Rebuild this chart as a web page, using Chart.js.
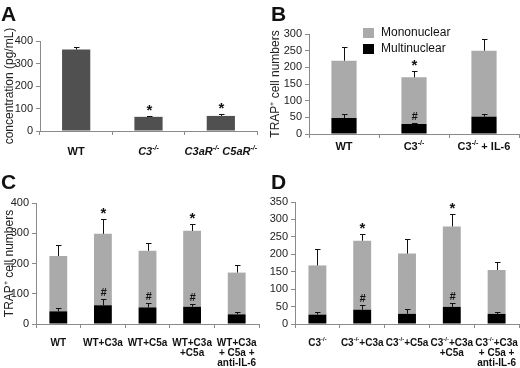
<!DOCTYPE html>
<html>
<head>
<meta charset="utf-8">
<script src="https://cdn.jsdelivr.net/npm/chart.js@4.4.0/dist/chart.umd.min.js"></script>
<style>
  body { margin: 0; background: #fff; }
  #wrap { position: relative; width: 520px; height: 368px; overflow: hidden; }
  .panel { position: absolute; }
  .letter { position: absolute; font: bold 21px "Liberation Sans", Arial, sans-serif; color: #111; }
</style>
</head>
<body>
<div id="wrap">
  <canvas class="panel" id="chartA" width="260" height="184" style="left:0;top:0"></canvas>
  <canvas class="panel" id="chartB" width="260" height="184" style="left:260px;top:0"></canvas>
  <canvas class="panel" id="chartC" width="260" height="184" style="left:0;top:184px"></canvas>
  <canvas class="panel" id="chartD" width="260" height="184" style="left:260px;top:184px"></canvas>
  <div class="letter" style="left:1px;top:2px">A</div>
  <div class="letter" style="left:271px;top:2px">B</div>
  <div class="letter" style="left:1px;top:170px">C</div>
  <div class="letter" style="left:271px;top:170px">D</div>
</div>
<script>
// panel A - concentration
const aCategories = ["WT", "C3^{-/-}", "C3aR^{-/-} C5aR^{-/-}"];
const aValues = [362, 63, 67];
const aErrors = [10, 4, 8];
const aStars = [false, true, true];

// panel B
const bCategories = ["WT", "C3^{-/-}", "C3^{-/-} + IL-6"];
const bMulti = [48, 30, 52];
const bMultiErr = [12, 4, 8];
const bMono = [172, 140, 198];
const bMonoErr = [42, 18, 34];
const bStars = [false, true, false];
const bHashes = [false, true, false];

// panel C
const cCategories = ["WT", "WT+C3a", "WT+C5a", ["WT+C3a", "+C5a"], ["WT+C3a", "+ C5a +", "anti-IL-6"]];
const cMulti = [42, 62, 55, 57, 32];
const cMultiErr = [12, 20, 15, 8, 7];
const cMono = [183, 236, 187, 251, 138];
const cMonoErr = [35, 48, 26, 24, 24];
const cStars = [false, true, false, true, false];
const cHashes = [false, true, true, true, false];

// panel D
const dCategories = ["C3^{-/-}", "C3^{-/-}+C3a", "C3^{-/-}+C5a", ["C3^{-/-}+C3a", "+C5a"], ["C3^{-/-}+C3a", "+ C5a +", "anti-IL-6"]];
const dMulti = [27, 41, 29, 49, 29];
const dMultiErr = [8, 13, 13, 11, 6];
const dMono = [141, 198, 173, 231, 126];
const dMonoErr = [46, 20, 42, 36, 23];
const dStars = [false, true, false, true, false];
const dHashes = [false, true, false, true, false];

const FAMILY = '"Liberation Sans", Arial, sans-serif';
Chart.defaults.font.family = FAMILY;
Chart.defaults.color = '#111';

// text with ^{..} superscripts, centred on x
function drawRich(ctx, s, x, y, style, size) {
  const parts = [];
  const re = /\^\{([^}]*)\}/g;
  let last = 0, m;
  while ((m = re.exec(s))) {
    if (m.index > last) parts.push({t: s.slice(last, m.index), sup: false});
    parts.push({t: m[1], sup: true});
    last = m.index + m[0].length;
  }
  if (last < s.length) parts.push({t: s.slice(last), sup: false});
  const font = sup => `${style} ${sup ? Math.round(size * 0.62) : size}px ${FAMILY}`;
  let w = 0;
  parts.forEach(p => { ctx.font = font(p.sup); p.w = ctx.measureText(p.t).width; w += p.w; });
  let cx = x - w / 2;
  ctx.textAlign = 'left';
  ctx.textBaseline = 'middle';
  parts.forEach(p => {
    ctx.font = font(p.sup);
    ctx.fillText(p.t, cx, p.sup ? y - size * 0.35 : y);
    cx += p.w;
  });
}

function stackTop(chart, di, i) {
  let v = 0;
  for (let k = 0; k <= di; k++) v += chart.data.datasets[k].data[i];
  return v;
}

const xLabelPlugin = {
  id: 'xLabels',
  afterDraw(chart, args, opts) {
    const ctx = chart.ctx, xs = chart.scales.x;
    ctx.save();
    ctx.fillStyle = '#111';
    chart.data.labels.forEach((lab, i) => {
      const lines = Array.isArray(lab) ? lab : [lab];
      const x = xs.getPixelForValue(i);
      lines.forEach((ln, j) => drawRich(ctx, ln, x, xs.top + opts.offset + j * opts.lineHeight, opts.style(i), opts.size));
    });
    ctx.restore();
  }
};

const errorPlugin = {
  id: 'errBars',
  afterDatasetsDraw(chart) {
    const ctx = chart.ctx, ys = chart.scales.y;
    ctx.save();
    ctx.strokeStyle = '#111';
    ctx.lineWidth = 1;
    chart.data.datasets.forEach((ds, di) => {
      const meta = chart.getDatasetMeta(di);
      meta.data.forEach((bar, i) => {
        const top = stackTop(chart, di, i);
        const y1 = Math.round(ys.getPixelForValue(top + ds.errors[i])) + 0.5;
        const x = Math.round(bar.x) + 0.5;
        ctx.beginPath();
        ctx.moveTo(x, bar.y);
        ctx.lineTo(x, y1);
        ctx.moveTo(x - 2.5, y1);
        ctx.lineTo(x + 3, y1);
        ctx.stroke();
        if (ds.marks && ds.marks[i]) {
          ctx.fillStyle = '#111';
          ctx.textAlign = 'center';
          ctx.textBaseline = 'middle';
          if (ds.markSymbol === '*') {
            ctx.font = `bold 15px ${FAMILY}`;
            ctx.fillText('*', x, y1 - 6);
          } else {
            ctx.font = `italic bold 11px ${FAMILY}`;
            ctx.fillText('#', x, y1 - 7);
          }
        }
      });
    });
    ctx.restore();
  }
};

const legendPlugin = {
  id: 'boxLegend',
  afterDraw(chart, args, opts) {
    if (!opts.show) return;
    const ctx = chart.ctx;
    ctx.save();
    ctx.font = `12px ${FAMILY}`;
    ctx.textAlign = 'left';
    ctx.textBaseline = 'middle';
    chart.data.datasets.slice().reverse().forEach((ds, k) => {
      const y = opts.y + k * 16;
      ctx.fillStyle = ds.backgroundColor;
      ctx.fillRect(opts.x, y - 5, 11, 10);
      ctx.fillStyle = '#111';
      ctx.fillText(ds.label, opts.x + 18, y);
    });
    ctx.restore();
  }
};

function buildChart(id, cfg) {
  const axisColor = '#8a8a8a';
  return new Chart(document.getElementById(id), {
    type: 'bar',
    data: {labels: cfg.labels, datasets: cfg.datasets},
    options: {
      responsive: false,
      animation: false,
      devicePixelRatio: 1,
      layout: {padding: cfg.padding},
      datasets: {bar: {categoryPercentage: 1, barPercentage: cfg.barPct, borderWidth: 0}},
      plugins: {
        legend: {display: false},
        tooltip: {enabled: false},
        xLabels: cfg.xLabels,
        boxLegend: cfg.legend || {show: false}
      },
      scales: {
        x: {
          stacked: true,
          ticks: {display: false},
          grid: {drawOnChartArea: false, tickLength: 4, color: axisColor, offset: true},
          border: {color: axisColor},
          afterFit(s) { s.height = cfg.xHeight; }
        },
        y: {
          stacked: true,
          min: 0,
          max: cfg.yMax,
          ticks: {stepSize: 50, font: {size: 11}, color: '#222', padding: 3},
          grid: {drawOnChartArea: false, tickLength: 4, color: axisColor},
          border: {color: axisColor},
          title: {display: !!cfg.yTitle, text: cfg.yTitle, font: {size: 12}, color: '#222', padding: {top: cfg.titlePad || 0, bottom: 2}},
          afterFit(s) { s.width = cfg.yWidth; }
        }
      }
    },
    plugins: [errorPlugin, xLabelPlugin, legendPlugin]
  });
}

function stackedSets(multi, multiErr, mono, monoErr, hashes, stars) {
  return [
    {label: 'Multinuclear', data: multi, errors: multiErr, marks: hashes, markSymbol: '#', backgroundColor: '#000000'},
    {label: 'Mononuclear', data: mono, errors: monoErr, marks: stars, markSymbol: '*', backgroundColor: '#aaaaaa'}
  ];
}

buildChart('chartA', {
  labels: aCategories,
  datasets: [{label: 'concentration', data: aValues, errors: aErrors, marks: aStars, markSymbol: '*', backgroundColor: '#505050'}],
  padding: {left: 0, top: 41, right: 3, bottom: 23},
  barPct: 0.39, yMax: 400, yWidth: 40, xHeight: 30, titlePad: 2,
  yTitle: 'concentration (pg/mL)',
  xLabels: {offset: 21, lineHeight: 11, size: 11, style: i => i > 0 ? 'italic bold' : 'bold'}
});

buildChart('chartB', {
  labels: bCategories,
  datasets: stackedSets(bMulti, bMultiErr, bMono, bMonoErr, bHashes, bStars),
  padding: {left: 0, top: 34, right: 1, bottom: 20},
  barPct: 0.36, yMax: 300, yWidth: 49, xHeight: 30, titlePad: 8,
  yTitle: 'TRAP\u207A cell numbers',
  legend: {show: true, x: 103, y: 33},
  xLabels: {offset: 13, lineHeight: 11, size: 11, style: () => 'bold'}
});

buildChart('chartC', {
  labels: cCategories,
  datasets: stackedSets(cMulti, cMultiErr, cMono, cMonoErr, cHashes, cStars),
  padding: {left: 0, top: 19, right: 1, bottom: 4},
  barPct: 0.4, yMax: 400, yWidth: 36, xHeight: 40, titlePad: 2,
  yTitle: 'TRAP\u207A cell numbers',
  xLabels: {offset: 19, lineHeight: 10, size: 10, style: () => 'bold'}
});

buildChart('chartD', {
  labels: dCategories,
  datasets: stackedSets(dMulti, dMultiErr, dMono, dMonoErr, dHashes, dStars),
  padding: {left: 0, top: 18, right: 1, bottom: 4},
  barPct: 0.4, yMax: 350, yWidth: 35, xHeight: 40,
  yTitle: '',
  xLabels: {offset: 19, lineHeight: 10, size: 10, style: () => 'bold'}
});
</script>
</body>
</html>
